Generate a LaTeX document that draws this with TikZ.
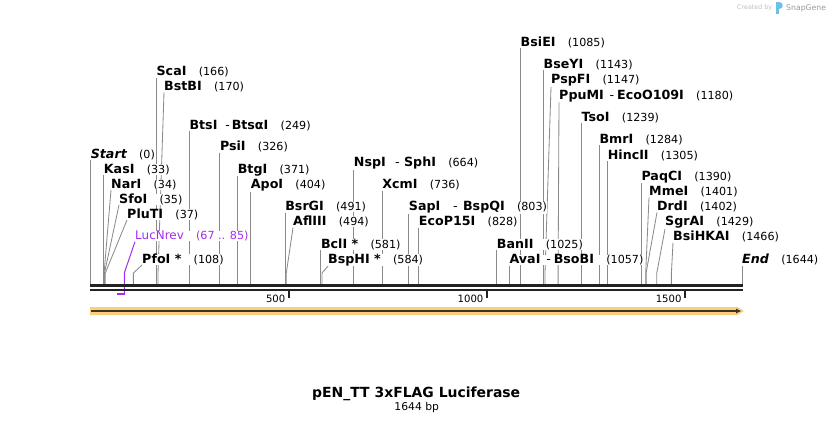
\documentclass[tikz,border=0pt]{standalone}
\usepackage{fontspec}
\setmainfont{DejaVu Sans}
\usetikzlibrary{arrows.meta,backgrounds}
\definecolor{primer}{RGB}{163,44,240}
\definecolor{featfill}{RGB}{252,207,124}
\definecolor{featline}{RGB}{64,52,40}
\definecolor{axisblack}{RGB}{34,34,34}
\definecolor{conngray}{RGB}{138,138,138}
\definecolor{wmgray}{RGB}{190,190,190}
\definecolor{wmblue}{RGB}{110,190,235}
\newcommand{\sitenum}[1]{\hspace{10.5pt}{\fontsize{9.5}{11}\selectfont\mdseries\upshape(#1)}}
\newcommand{\sitepair}[2]{\hspace{#1}{\mdseries-}\hspace{#2}}

\begin{document}
\begin{tikzpicture}[x=0.3mm,y=-0.3mm,
    site/.style={anchor=base west,inner sep=0pt,fill=white,font=\fontsize{10.8}{12}\selectfont\bfseries},
    conn/.style={conngray,line width=0.25mm},
    primerline/.style={primer,line width=0.3mm},
    ticklabel/.style={anchor=base east,inner sep=0pt,font=\fontsize{8.6}{10}\selectfont}]
  \useasboundingbox (0,0) rectangle (834,423);
  % cut sites on the sequence
  \coordinate (sStart) at (90.6,284);
  \coordinate (sKasI) at (103.7,284);
  \coordinate (sNarI) at (104.1,284);
  \coordinate (sSfoI) at (104.5,284);
  \coordinate (sPluTI) at (105.3,284);
  \coordinate (sLucNrev) at (124.3,294);
  \coordinate (pLucNrev) at (117.1,294);
  \coordinate (sPfoI) at (133.4,284);
  \coordinate (sScaI) at (156.4,284);
  \coordinate (sBstBI) at (158.0,284);
  \coordinate (sBtsI) at (189.3,284);
  \coordinate (sPsiI) at (219.8,284);
  \coordinate (sBtgI) at (237.6,284);
  \coordinate (sApoI) at (250.7,284);
  \coordinate (sBsrGI) at (285.1,284);
  \coordinate (sAflIII) at (286.3,284);
  \coordinate (sBclI) at (320.8,284);
  \coordinate (sBspHI) at (322.0,284);
  \coordinate (sNspI) at (353.7,284);
  \coordinate (sXcmI) at (382.2,284);
  \coordinate (sSapI) at (408.7,284);
  \coordinate (sEcoPI) at (418.7,284);
  \coordinate (sBanII) at (496.7,284);
  \coordinate (sAvaI) at (509.4,284);
  \coordinate (sBsiEI) at (520.5,284);
  \coordinate (sBseYI) at (543.5,284);
  \coordinate (sPspFI) at (545.0,284);
  \coordinate (sPpuMI) at (558.1,284);
  \coordinate (sTsoI) at (581.5,284);
  \coordinate (sBmrI) at (599.3,284);
  \coordinate (sHincII) at (607.6,284);
  \coordinate (sPaqCI) at (641.3,284);
  \coordinate (sMmeI) at (645.7,284);
  \coordinate (sDrdI) at (646.1,284);
  \coordinate (sSgrAI) at (656.8,284);
  \coordinate (sBsiHKAI) at (671.4,284);
  \coordinate (sEnd) at (742.0,284);
  % labels
  \node[site] (Start) at (90.6,158.3) {\itshape Start\sitenum{0}};
  \node[site] (KasI) at (103.7,173.3) {KasI\sitenum{33}};
  \node[site] (NarI) at (111,188.3) {NarI\sitenum{34}};
  \node[site] (SfoI) at (119,203.3) {SfoI\sitenum{35}};
  \node[site] (PluTI) at (127,218.3) {PluTI\sitenum{37}};
  \node[site,text=primer,font=\fontsize{10.2}{12}\selectfont\mdseries] (LucNrev) at (135,240) {LucNrev\sitenum{67 .. 85}};
  \node[site] (PfoI) at (142,263.3) {PfoI *\sitenum{108}};
  \node[site] (ScaI) at (156.4,76) {ScaI\sitenum{166}};
  \node[site] (BstBI) at (164,90.7) {BstBI\sitenum{170}};
  \node[site] (BtsI) at (189.3,129.5) {BtsI\sitepair{6.8pt}{1.5pt}BtsαI\sitenum{249}};
  \node[site] (PsiI) at (219.8,151) {PsiI\sitenum{326}};
  \node[site] (BtgI) at (237.6,173.3) {BtgI\sitenum{371}};
  \node[site] (ApoI) at (250.7,189) {ApoI\sitenum{404}};
  \node[site] (BsrGI) at (285.1,211) {BsrGI\sitenum{491}};
  \node[site] (AflIII) at (293,226) {AflIII\sitenum{494}};
  \node[site] (BclI) at (320.8,248.3) {BclI *\sitenum{581}};
  \node[site] (BspHI) at (328,263.3) {BspHI *\sitenum{584}};
  \node[site] (NspI) at (353.7,166.7) {NspI\sitepair{8pt}{3.7pt}SphI\sitenum{664}};
  \node[site] (XcmI) at (382.2,189) {XcmI\sitenum{736}};
  \node[site] (SapI) at (408.7,211) {SapI\sitepair{11pt}{4.5pt}BspQI\sitenum{803}};
  \node[site] (EcoPI) at (418.7,226) {EcoP15I\sitenum{828}};
  \node[site] (BanII) at (496.7,248.7) {BanII\sitenum{1025}};
  \node[site] (AvaI) at (509.4,264) {AvaI\sitepair{5pt}{2.5pt}BsoBI\sitenum{1057}};
  \node[site] (BsiEI) at (520.5,46.7) {BsiEI\sitenum{1085}};
  \node[site] (BseYI) at (543.5,68.3) {BseYI\sitenum{1143}};
  \node[site] (PspFI) at (551,84) {PspFI\sitenum{1147}};
  \node[site] (PpuMI) at (559,99.5) {PpuMI\sitepair{5pt}{2.5pt}EcoO109I\sitenum{1180}};
  \node[site] (TsoI) at (581.5,121.5) {TsoI\sitenum{1239}};
  \node[site] (BmrI) at (599.3,143.3) {BmrI\sitenum{1284}};
  \node[site] (HincII) at (607.6,159.3) {HincII\sitenum{1305}};
  \node[site] (PaqCI) at (641.3,180.3) {PaqCI\sitenum{1390}};
  \node[site] (MmeI) at (649,195.7) {MmeI\sitenum{1401}};
  \node[site] (DrdI) at (657,210.7) {DrdI\sitenum{1402}};
  \node[site] (SgrAI) at (665,226) {SgrAI\sitenum{1429}};
  \node[site] (BsiHKAI) at (673,241) {BsiHKAI\sitenum{1466}};
  \node[site] (End) at (742,264) {\itshape End\sitenum{1644}};
  % connectors behind the labels
  \begin{scope}[on background layer]
    \draw[conn] (Start.south west) -- (sStart);
    \draw[conn] (KasI.south west) -- (sKasI);
    \draw[conn] (NarI.south west) -- ([yshift=3.3mm]sNarI) -- (sNarI);
    \draw[conn] (SfoI.south west) -- ([yshift=3.3mm]sSfoI) -- (sSfoI);
    \draw[conn] (PluTI.south west) -- ([yshift=3.3mm]sPluTI) -- (sPluTI);
    \draw[primerline] (LucNrev.south west) -- ([yshift=6.3mm]sLucNrev) -- (sLucNrev);
    \draw[primer,line width=0.6mm] (pLucNrev) -- ([xshift=0.15mm]sLucNrev);
    \draw[conn] (PfoI.south west) -- ([yshift=3.3mm]sPfoI) -- (sPfoI);
    \draw[conn] (ScaI.south west) -- (sScaI);
    \draw[conn] (BstBI.south west) -- ([yshift=3.3mm]sBstBI) -- (sBstBI);
    \draw[conn] (BtsI.south west) -- (sBtsI);
    \draw[conn] (PsiI.south west) -- (sPsiI);
    \draw[conn] (BtgI.south west) -- (sBtgI);
    \draw[conn] (ApoI.south west) -- (sApoI);
    \draw[conn] (BsrGI.south west) -- (sBsrGI);
    \draw[conn] (AflIII.south west) -- ([yshift=3.3mm]sAflIII) -- (sAflIII);
    \draw[conn] (BclI.south west) -- (sBclI);
    \draw[conn] (BspHI.south west) -- ([yshift=3.3mm]sBspHI) -- (sBspHI);
    \draw[conn] (NspI.south west) -- (sNspI);
    \draw[conn] (XcmI.south west) -- (sXcmI);
    \draw[conn] (SapI.south west) -- (sSapI);
    \draw[conn] (EcoPI.south west) -- (sEcoPI);
    \draw[conn] (BanII.south west) -- (sBanII);
    \draw[conn] (AvaI.south west) -- (sAvaI);
    \draw[conn] (BsiEI.south west) -- (sBsiEI);
    \draw[conn] (BseYI.south west) -- (sBseYI);
    \draw[conn] (PspFI.south west) -- ([yshift=3.3mm]sPspFI) -- (sPspFI);
    \draw[conn] (PpuMI.south west) -- ([yshift=3.3mm]sPpuMI) -- (sPpuMI);
    \draw[conn] (TsoI.south west) -- (sTsoI);
    \draw[conn] (BmrI.south west) -- (sBmrI);
    \draw[conn] (HincII.south west) -- (sHincII);
    \draw[conn] (PaqCI.south west) -- (sPaqCI);
    \draw[conn] (MmeI.south west) -- ([yshift=3.3mm]sMmeI) -- (sMmeI);
    \draw[conn] (DrdI.south west) -- ([yshift=3.3mm]sDrdI) -- (sDrdI);
    \draw[conn] (SgrAI.south west) -- ([yshift=3.3mm]sSgrAI) -- (sSgrAI);
    \draw[conn] (BsiHKAI.south west) -- ([yshift=3.3mm]sBsiHKAI) -- (sBsiHKAI);
    \draw[conn] (End.south west) -- (sEnd);
  \end{scope}
  % the sequence ruler
  \draw[axisblack,line width=0.9mm] (90,285.2) -- (743,285.2);
  \draw[axisblack,line width=0.7mm] (90,289.8) -- (743,289.8);
  \draw[axisblack,line width=0.6mm] (288.7,291) -- (288.7,297.5);
  \draw[axisblack,line width=0.6mm] (486.8,291) -- (486.8,297.5);
  \draw[axisblack,line width=0.6mm] (684.9,291) -- (684.9,297.5);
  \node[ticklabel] (t500) at (285.5,302) {500};
  \node[ticklabel] (t1000) at (483.6,302) {1000};
  \node[ticklabel] (t1500) at (681.7,302) {1500};
  % feature arrow
  \fill[featfill] (90,307) -- (737.5,307) -- (744,311) -- (737.5,315) -- (90,315) -- cycle;
  \draw[featline,line width=0.5mm,-{Latex[length=1.6mm,width=1.5mm]}] (91,311) -- (741.5,311);
  % title
  \node[anchor=base,inner sep=0pt,font=\fontsize{11.9}{14}\selectfont\bfseries] (title) at (416.2,397.3) {pEN\_TT 3xFLAG Luciferase};
  \node[anchor=base,inner sep=0pt,font=\fontsize{9.2}{11}\selectfont] (length) at (416.7,410) {1644 bp};
  % watermark
  \node[anchor=base west,inner sep=0pt,text=wmgray,font=\fontsize{5.4}{6}\selectfont] (madeby) at (737,10) {Created by};
  \fill[wmblue] (776,2.5) rectangle (778.5,14);
  \fill[wmblue] (778.5,2.5) .. controls (783.5,2.5) and (783.5,9.5) .. (778.5,9.5) -- cycle;
  \node[anchor=base west,inner sep=0pt,text=black!40,font=\fontsize{6.6}{7}\selectfont] (snapgene) at (786,10.5) {SnapGene};
\end{tikzpicture}
\end{document}
